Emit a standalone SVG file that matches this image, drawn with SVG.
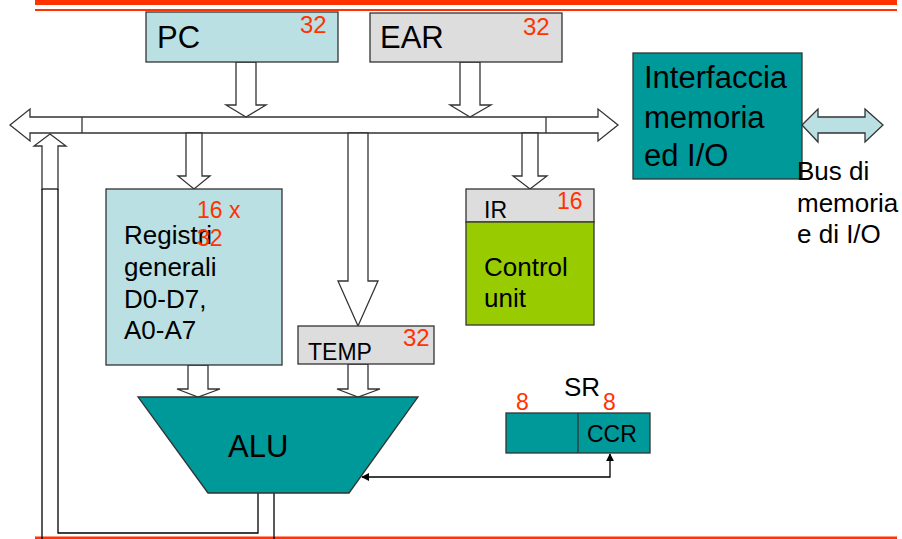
<svg xmlns="http://www.w3.org/2000/svg" width="902" height="539" viewBox="0 0 902 539">
<defs>
<style>
text{font-family:"Liberation Sans",Arial,sans-serif;fill:#000}
.red{fill:#FF3300}
.box{stroke:#333;stroke-width:1.3}
.cyan{fill:#BBE0E3}
.grey{fill:#DDDDDD}
.teal{fill:#009999}
.green{fill:#99CC00}
.blk{fill:#fff;stroke:#333;stroke-width:1.3;stroke-linejoin:miter}
.ln{fill:none;stroke:#000;stroke-width:1.3}
</style>
<marker id="ah" viewBox="0 0 10 10" refX="9" refY="5" markerWidth="8" markerHeight="8" markerUnits="userSpaceOnUse" orient="auto-start-reverse">
<path d="M0,0 L10,5 L0,10 z" fill="#000"/>
</marker>
</defs>
<rect x="35" y="0" width="862" height="5" class="red"/>
<rect x="35" y="9" width="862" height="2" class="red"/>
<rect x="35" y="536.5" width="862" height="2.5" class="red"/>

<g id="connectors">
<polygon class="blk" points="10,125 30,109 30,117 598,117 598,109 618,125 598,141 598,133 30,133 30,141"/>
<line class="blk" x1="82" y1="117" x2="82" y2="133"/>
<line class="blk" x1="546" y1="117" x2="546" y2="133"/>
<polygon class="blk" points="236,62 256,62 256,105 266,105 246,117 226,105 236,105"/>
<polygon class="blk" points="460,62 480,62 480,105 491,105 470,117 450,105 460,105"/>
<polygon class="blk" points="186,133 202,133 202,176 210,176 194,189 178,176 186,176"/>
<polygon class="blk" points="348,133 368,133 368,281 378,281 358,326 338,281 348,281"/>
<polygon class="blk" points="522,133 538,133 538,176 547,176 530,189 513,176 522,176"/>
<polygon class="blk" points="50,134 66,146 58,146 58,189 42,189 42,146 34,146"/>
<line class="ln" x1="42" y1="189" x2="42" y2="539"/>
<polyline class="ln" points="58,189 58,533 258,533 258,493"/>
<line class="ln" x1="274" y1="493" x2="274" y2="539"/>
<polygon class="blk" points="188,365 208,365 208,389 220,389 198,397 177,389 188,389"/>
<polygon class="blk" points="348,364 368,364 368,389 380,389 358,397 337,389 348,389"/>
<polygon class="box cyan" points="802,125 818,109 818,117 865,117 865,109 883,125 865,142 865,133 818,133 818,142"/>
<path class="ln" d="M610,454 V477 H362" stroke-width="1" marker-start="url(#ah)" marker-end="url(#ah)"/>
</g>

<g id="pc">
<rect class="box cyan" x="146" y="12" width="192" height="50"/>
<text x="157" y="48" font-size="31">PC</text>
<text class="red" x="300" y="33" font-size="24">32</text>
</g>
<g id="ear">
<rect class="box grey" x="370" y="13" width="192" height="49"/>
<text x="380" y="48" font-size="31">EAR</text>
<text class="red" x="523" y="35" font-size="24">32</text>
</g>
<g id="interfaccia">
<rect class="box teal" x="633" y="53" width="169" height="126"/>
<text font-size="31"><tspan x="644" y="88">Interfaccia</tspan><tspan x="644" y="128">memoria</tspan><tspan x="644" y="166">ed I/O</tspan></text>
</g>
<g id="bus-label">
<text font-size="26"><tspan x="797" y="180">Bus di</tspan><tspan x="797" y="212">memoria</tspan><tspan x="797" y="243">e di I/O</tspan></text>
</g>
<g id="registri">
<rect class="box cyan" x="106" y="189" width="176" height="176"/>
<text font-size="26"><tspan x="124" y="244">Registri</tspan><tspan x="124" y="276">generali</tspan><tspan x="124" y="308">D0-D7,</tspan><tspan x="124" y="339">A0-A7</tspan></text>
<text class="red" font-size="23"><tspan x="197" y="218">16 x</tspan><tspan x="197" y="246">32</tspan></text>
</g>
<g id="ir">
<rect class="box grey" x="466" y="189" width="128" height="33"/>
<text x="484" y="218" font-size="23">IR</text>
<text class="red" x="557" y="209" font-size="23">16</text>
</g>
<g id="control-unit">
<rect class="box green" x="466" y="222" width="128" height="103"/>
<text font-size="26"><tspan x="484" y="276">Control</tspan><tspan x="484" y="307">unit</tspan></text>
</g>
<g id="temp">
<rect class="box grey" x="298" y="326" width="136" height="38"/>
<text x="308" y="360" font-size="23">TEMP</text>
<text class="red" x="403" y="346" font-size="24">32</text>
</g>
<g id="alu">
<polygon class="box teal" points="138,397 418,397 349,493 208,493"/>
<text x="228" y="457" font-size="31">ALU</text>
</g>
<g id="sr">
<rect class="box teal" x="506" y="413" width="144" height="40"/>
<line class="box" x1="578" y1="413" x2="578" y2="453"/>
<text x="564" y="396" font-size="26">SR</text>
<text class="red" x="516" y="410" font-size="23">8</text>
<text class="red" x="603" y="410" font-size="23">8</text>
<text x="587" y="442" font-size="23">CCR</text>
</g>
</svg>
